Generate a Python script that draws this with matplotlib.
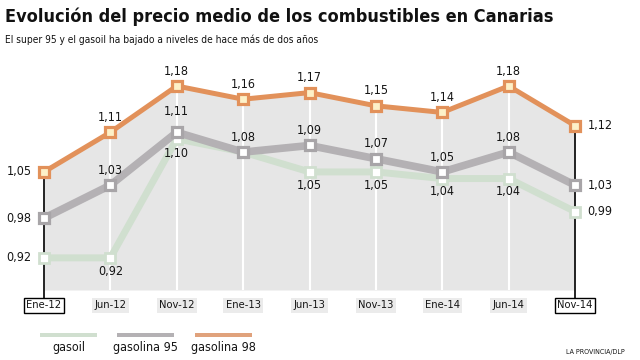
import matplotlib
matplotlib.use("Agg")
import matplotlib.pyplot as plt
from matplotlib.patches import Rectangle

categories = ["Ene-12", "Jun-12", "Nov-12", "Ene-13", "Jun-13", "Nov-13", "Ene-14", "Jun-14", "Nov-14"]
gasoil = [0.92, 0.92, 1.10, 1.08, 1.05, 1.05, 1.04, 1.04, 0.99]
gasolina95 = [0.98, 1.03, 1.11, 1.08, 1.09, 1.07, 1.05, 1.08, 1.03]
gasolina98 = [1.05, 1.11, 1.18, 1.16, 1.17, 1.15, 1.14, 1.18, 1.12]
gasoil_labels = ["0,92", "0,92", "1,10", None, "1,05", "1,05", "1,04", "1,04", "0,99"]
g95_labels = ["0,98", "1,03", "1,11", "1,08", "1,09", "1,07", "1,05", "1,08", "1,03"]
g98_labels = ["1,05", "1,11", "1,18", "1,16", "1,17", "1,15", "1,14", "1,18", "1,12"]
series_names = ["gasoil", "gasolina 95", "gasolina 98"]

plt.rcParams["font.family"] = ["DejaVu Sans"]
plt.rcParams["font.stretch"] = "condensed"

C98 = "#e2915a"
C95 = "#b4b1b4"
CGO = "#d0dfcf"
TXT = "#151515"

fig = plt.figure(figsize=(6.4, 3.6), dpi=100)
W, H = 640, 360
x0, x1 = 44, 575
ytop, ybot = 60, 290
ax = fig.add_axes([x0 / W, (H - ybot) / H, (x1 - x0) / W, (ybot - ytop) / H])
ax.set_xlim(0, 8)
ylo = 1.18 - (ybot - 86) / 661
yhi = 1.18 + (86 - ytop) / 661
ax.set_ylim(ylo, yhi)
ax.axis("off")

xs = list(range(len(categories)))
ax.fill_between(xs, gasolina98, ylo, color="#e6e6e6", zorder=0, lw=0)
for i in xs:
    if i in (0, 8):
        ax.plot([i, i], [gasolina98[i], ylo - 8 / 661], color="black", lw=1.2, zorder=1, clip_on=False)
    else:
        ax.plot([i, i], [gasolina98[i], ylo], color="white", lw=1.5, zorder=1)

ax.plot(xs, gasoil, color=CGO, lw=5, zorder=2, solid_joinstyle="miter",
         marker="s", ms=7, mfc="white", mec=CGO, mew=2, clip_on=False)
ax.plot(xs, gasolina95, color=C95, lw=5.5, zorder=3, solid_joinstyle="miter",
         marker="s", ms=7.5, mfc="white", mec="#a8a5a8", mew=2.3, clip_on=False)
ax.plot(xs, gasolina98, color=C98, lw=3.6, zorder=4, solid_joinstyle="miter",
         marker="s", ms=7.5, mfc="#fdf1c8", mec=C98, mew=2.3, clip_on=False)

FS = 9

def lab(x, y, t, pos, dy=11):
    if t is None:
        return
    kw = dict(textcoords="offset points", fontsize=FS, color=TXT, zorder=6, annotation_clip=False)
    if pos == "up":
        ax.annotate(t, (x, y), xytext=(0, dy), ha="center", va="bottom", **kw)
    elif pos == "down":
        ax.annotate(t, (x, y), xytext=(0, -dy), ha="center", va="top", **kw)
    elif pos == "left":
        ax.annotate(t, (x, y), xytext=(-9, 0), ha="right", va="center", **kw)
    else:
        ax.annotate(t, (x, y), xytext=(9, 0), ha="left", va="center", **kw)

for i in xs:
    pos_o = "left" if i == 0 else ("right" if i == 8 else "up")
    pos_d = "left" if i == 0 else ("right" if i == 8 else "down")
    lab(i, gasolina98[i], g98_labels[i], pos_o, 6)
    lab(i, gasolina95[i], g95_labels[i], pos_o, 6 if i != 2 else 10)
    lab(i, gasoil[i], gasoil_labels[i], pos_d, 5 if i != 2 else 6)

# x tick labels in boxes
for i, c in enumerate(categories):
    if i in (0, 8):
        bbox = dict(boxstyle="square,pad=0.2", fc="white", ec="black", lw=1)
    else:
        bbox = dict(boxstyle="square,pad=0.2", fc="#ebebeb", ec="none")
    ax.annotate(c, (i, ylo), xytext=(0, -11), textcoords="offset points", ha="center", va="center",
                fontsize=8, color=TXT, bbox=bbox, annotation_clip=False)

# title & subtitle
fig.text(5 / W, 1 - 17 / H, "Evolución del precio medio de los combustibles en Canarias",
         fontsize=13, fontweight="bold", color="#111111", va="center", ha="left")
fig.text(5 / W, 1 - 40 / H, "El super 95 y el gasoil ha bajado a niveles de hace más de dos años",
         fontsize=7.3, color="#111111", va="center", ha="left")

# legend
leg_colors = [CGO, C95, "#e0a27c"]
leg_x = [40, 117, 195]
for name, col, lx in zip(series_names, leg_colors, leg_x):
    fig.patches.append(Rectangle((lx / W, 1 - 337 / H), 57 / W, 4 / H, transform=fig.transFigure,
                                 fc=col, ec="none"))
    fig.text((lx + 28.5) / W, 1 - 348 / H, name, fontsize=9, color=TXT, ha="center", va="center")

fig.text(625 / W, 1 - 352 / H, "LA PROVINCIA/DLP", fontsize=5, color=TXT, ha="right", va="center")

fig.savefig("out.png", dpi=100, facecolor="white")
